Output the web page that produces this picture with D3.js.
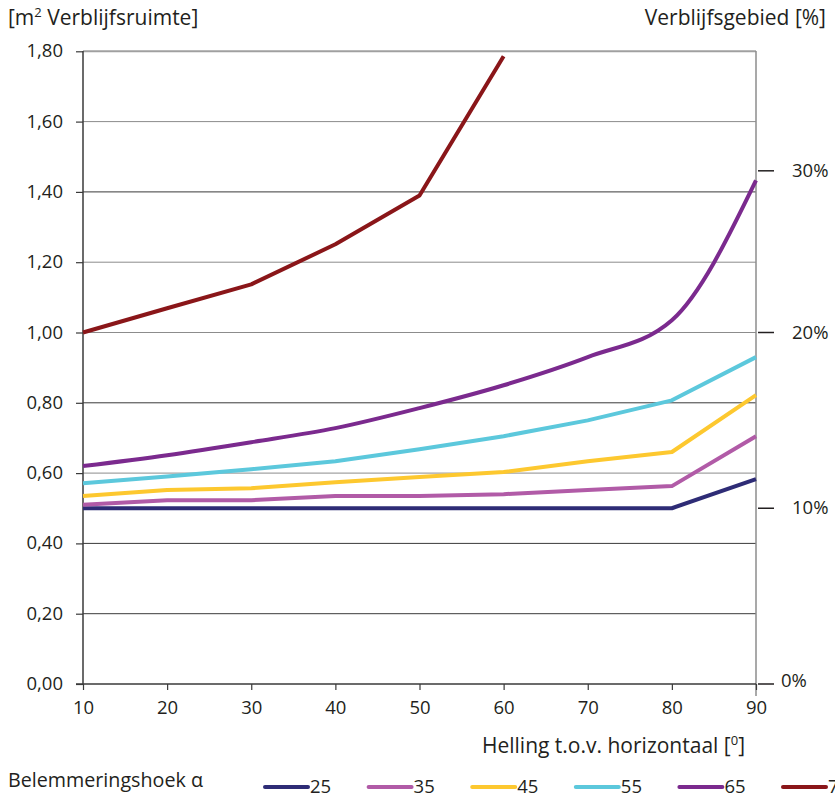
<!DOCTYPE html>
<html><head><meta charset="utf-8">
<script src="https://cdn.jsdelivr.net/npm/d3@7/dist/d3.min.js"></script>
<style>body{margin:0;background:#fff}svg{display:block}text{font-family:"Open Sans","Noto Sans",sans-serif;fill:#231f20}</style>
</head><body><svg id="c" width="835" height="796"></svg>
<script>
const hellingen = [10,20,30,40,50,60,70,80,90];
const s25 = [0.50,0.50,0.50,0.50,0.50,0.50,0.50,0.50,0.583];
const s35 = [0.51,0.523,0.523,0.535,0.535,0.54,0.552,0.563,0.705];
const s45 = [0.535,0.552,0.557,0.574,0.589,0.603,0.634,0.66,0.822];
const s55 = [0.571,0.59,0.611,0.634,0.668,0.705,0.75,0.807,0.93];
const s65 = [0.62,0.651,0.688,0.728,0.785,0.85,0.93,1.035,1.433];
const s75 = [1.00,1.069,1.137,1.251,1.39,1.786];
const seriesNames = ["25","35","45","55","65","75"];
const seriesValues = [s25,s35,s45,s55,s65,s75];
const seriesColors = ["#2e2c76","#b15ba7","#fdc82f","#5cc8dc","#7b2a8e","#8a1619"];
const yTicks = [0,0.2,0.4,0.6,0.8,1.0,1.2,1.4,1.6,1.8];
const pctLabels = ["0%","10%","20%","30%"];
const pctValues = [0,0.50,1.00,1.46];

const FS = "18.5px";
const TS = "21px";
const svg = d3.select("#c");
const x = d3.scaleLinear().domain([10,90]).range([83,756]);
const y = d3.scaleLinear().domain([0,1.8]).range([684,51.3]);
const fmt = d => d.toFixed(2).replace(".",",");

// gridlines
svg.append("g").selectAll("line").data(yTicks.filter(d=>d>0)).join("line")
  .attr("x1",83).attr("x2",756).attr("y1",d=>y(d)).attr("y2",d=>y(d))
  .attr("stroke",d=> d===1.8 ? "#a0a0a0" : ([1.4,0.8,0.4,0.2].includes(+d.toFixed(1)) ? "#3a3a3a" : "#8c8c8c"))
  .attr("stroke-width",d=>d===1.8?2:1);

// right vertical line
svg.append("line").attr("x1",756).attr("x2",756).attr("y1",51).attr("y2",696)
  .attr("stroke","#8c8c8c").attr("stroke-width",1.5);

// left axis
const yAxis = d3.axisLeft(y).tickValues(yTicks).tickFormat(fmt).tickSize(7).tickPadding(6);
const gy = svg.append("g").attr("transform","translate(83,0)").call(yAxis);
gy.select(".domain").attr("stroke","#3a3a3a").attr("stroke-width",1.5).attr("d","M0,51V684");
gy.selectAll(".tick line").attr("stroke","#3a3a3a").attr("stroke-width",1.2);
gy.selectAll(".tick text").style("font-size",FS).attr("fill","#231f20").attr("x",-20).attr("dy","0.3em");

// bottom axis
const xAxis = d3.axisBottom(x).tickValues(hellingen).tickSize(6).tickPadding(11);
const gx = svg.append("g").attr("transform","translate(0,684)").call(xAxis);
gx.select(".domain").attr("stroke","#3a3a3a").attr("stroke-width",1.5).attr("d","M76,0H756");
gx.selectAll(".tick line").attr("stroke","#3a3a3a").attr("stroke-width",1.2);
gx.selectAll(".tick text").style("font-size",FS).attr("fill","#231f20");

// right percentage axis
const gr = svg.append("g");
gr.selectAll("line").data(pctValues).join("line")
  .attr("x1",758).attr("x2",774).attr("y1",d=>y(d)).attr("y2",d=>y(d))
  .attr("stroke","#231f20").attr("stroke-width",1.5);
gr.selectAll("text").data(pctValues).join("text")
  .attr("x",(d,i)=>i===0?781:792).attr("y",d=>y(d)+ (d===0?3:6)).style("font-size",FS)
  .text((d,i)=>pctLabels[i]);

// lines
const line = d3.line().x((d,i)=>x(hellingen[i])).y(d=>y(d));
const curved = d3.line().x((d,i)=>x(hellingen[i])).y(d=>y(d)).curve(d3.curveMonotoneX);
svg.append("g").selectAll("path").data(seriesValues).join("path")
  .attr("d",(d,i)=> i===4 ? curved(d) : line(d))
  .attr("fill","none").attr("stroke",(d,i)=>seriesColors[i]).attr("stroke-width",4)
  .attr("stroke-linejoin","round");

// titles
svg.append("text").attr("x",8).attr("y",25).style("font-size",TS)
  .html('[m<tspan dy="-8" style="font-size:13px">2</tspan><tspan dy="8"> Verblijfsruimte]</tspan>');
svg.append("text").attr("x",826).attr("y",25).attr("text-anchor","end").style("font-size",TS)
  .text("Verblijfsgebied [%]");
svg.append("text").attr("x",745).attr("y",753).attr("text-anchor","end").style("font-size",TS)
  .html('Helling t.o.v. horizontaal [<tspan dy="-8" style="font-size:13px">0</tspan><tspan dy="8">]</tspan>');

// legend
svg.append("text").attr("x",8).attr("y",787).style("font-size","19.7px").text("Belemmeringshoek α");
const lg = svg.append("g").selectAll("g").data(seriesNames).join("g")
  .attr("transform",(d,i)=>`translate(${265 + i*103.6},0)`);
lg.append("line").attr("x1",0).attr("x2",43).attr("y1",787).attr("y2",787)
  .attr("stroke",(d,i)=>seriesColors[i]).attr("stroke-width",4).attr("stroke-linecap","round");
lg.append("text").attr("x",45).attr("y",793).style("font-size",FS).text(d=>d);
</script></body></html>
